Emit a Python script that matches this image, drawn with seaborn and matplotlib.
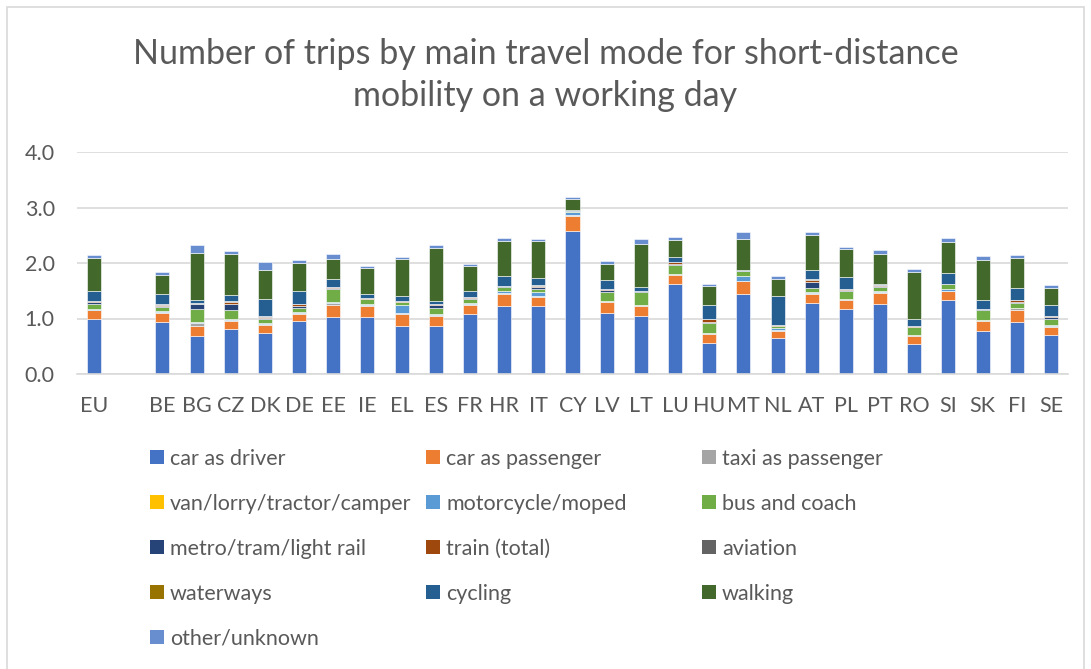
"""Stacked bars: short-distance trips by main travel mode on a working day"""
import matplotlib
matplotlib.use('Agg')
import matplotlib.pyplot as plt
from matplotlib.patches import Patch, Rectangle
import pandas as pd
import seaborn as sns

# Countries (the blank entry is the gap between EU and BE)
countries = ['EU', ' ', 'BE', 'BG', 'CZ', 'DK', 'DE', 'EE', 'IE', 'EL', 'ES', 'FR', 'HR', 'IT', 'CY',
             'LV', 'LT', 'LU', 'HU', 'MT', 'NL', 'AT', 'PL', 'PT', 'RO', 'SI', 'SK', 'FI', 'SE']

#Trips per person per mode
car_driver    = [0.99, 0, 0.94, 0.69, 0.81, 0.73, 0.96, 1.02, 1.02, 0.86, 0.87, 1.09, 1.23, 1.23, 2.58,
                 1.10, 1.05, 1.62, 0.55, 1.45, 0.64, 1.28, 1.17, 1.27, 0.54, 1.34, 0.78, 0.93, 0.70]
car_passenger = [0.16, 0, 0.16, 0.18, 0.15, 0.16, 0.13, 0.22, 0.21, 0.23, 0.18, 0.16, 0.22, 0.16, 0.27,
                 0.20, 0.17, 0.16, 0.17, 0.22, 0.14, 0.17, 0.16, 0.19, 0.14, 0.16, 0.18, 0.23, 0.15]
taxi          = [0.01, 0, 0.02, 0.05, 0.02, 0.01, 0.01, 0.04, 0.02, 0.01, 0.01, 0.02, 0.01, 0.01, 0.01,
                 0.02, 0.02, 0.02, 0.02, 0.01, 0.01, 0.01, 0.02, 0.01, 0.02, 0.00, 0.02, 0.03, 0.02]
van           = [0.00, 0, 0.00, 0.00, 0.00, 0.00, 0.00, 0.00, 0.00, 0.00, 0.00, 0.00, 0.00, 0.00, 0.00,
                 0.00, 0.00, 0.00, 0.00, 0.00, 0.00, 0.00, 0.00, 0.00, 0.00, 0.00, 0.00, 0.00, 0.00]
motorcycle    = [0.02, 0, 0.02, 0.01, 0.01, 0.02, 0.02, 0.01, 0.01, 0.14, 0.02, 0.01, 0.03, 0.08, 0.06,
                 0.00, 0.00, 0.00, 0.00, 0.08, 0.04, 0.02, 0.00, 0.02, 0.00, 0.04, 0.00, 0.00, 0.01]
bus           = [0.08, 0, 0.06, 0.24, 0.17, 0.07, 0.07, 0.24, 0.09, 0.05, 0.11, 0.07, 0.07, 0.06, 0.01,
                 0.16, 0.24, 0.17, 0.17, 0.10, 0.03, 0.07, 0.14, 0.08, 0.14, 0.08, 0.17, 0.09, 0.11]
metro         = [0.03, 0, 0.03, 0.09, 0.11, 0.02, 0.04, 0.02, 0.01, 0.01, 0.05, 0.02, 0.02, 0.02, 0.00,
                 0.04, 0.01, 0.01, 0.02, 0.00, 0.01, 0.10, 0.03, 0.01, 0.01, 0.00, 0.02, 0.02, 0.04]
train         = [0.02, 0, 0.02, 0.01, 0.03, 0.02, 0.03, 0.02, 0.01, 0.01, 0.02, 0.02, 0.01, 0.03, 0.00,
                 0.01, 0.00, 0.03, 0.06, 0.00, 0.02, 0.05, 0.02, 0.03, 0.01, 0.01, 0.01, 0.03, 0.02]
aviation      = [0.01, 0, 0.01, 0.01, 0.01, 0.01, 0.01, 0.00, 0.00, 0.01, 0.00, 0.00, 0.00, 0.01, 0.00,
                 0.00, 0.00, 0.00, 0.00, 0.00, 0.00, 0.01, 0.00, 0.00, 0.00, 0.00, 0.00, 0.00, 0.00]
waterways     = [0.00, 0, 0.00, 0.00, 0.00, 0.00, 0.00, 0.00, 0.00, 0.00, 0.00, 0.00, 0.00, 0.00, 0.00,
                 0.00, 0.00, 0.00, 0.00, 0.00, 0.00, 0.00, 0.00, 0.00, 0.00, 0.00, 0.00, 0.00, 0.00]
cycling       = [0.17, 0, 0.18, 0.05, 0.11, 0.32, 0.23, 0.14, 0.08, 0.08, 0.05, 0.11, 0.18, 0.13, 0.03,
                 0.16, 0.07, 0.09, 0.26, 0.01, 0.52, 0.17, 0.20, 0.02, 0.13, 0.19, 0.16, 0.22, 0.19]
walking       = [0.60, 0, 0.34, 0.85, 0.75, 0.52, 0.50, 0.36, 0.46, 0.67, 0.96, 0.44, 0.63, 0.66, 0.20,
                 0.30, 0.78, 0.32, 0.34, 0.56, 0.31, 0.63, 0.52, 0.54, 0.85, 0.56, 0.72, 0.54, 0.31]
other         = [0.05, 0, 0.06, 0.15, 0.05, 0.13, 0.05, 0.10, 0.03, 0.04, 0.05, 0.05, 0.05, 0.05, 0.03,
                 0.05, 0.10, 0.04, 0.04, 0.13, 0.05, 0.04, 0.03, 0.06, 0.06, 0.07, 0.07, 0.05, 0.05]

modes = ['car as driver', 'car as passenger', 'taxi as passenger', 'van/lorry/tractor/camper',
         'motorcycle/moped', 'bus and coach', 'metro/tram/light rail', 'train (total)', 'aviation',
         'waterways', 'cycling', 'walking', 'other/unknown']
series = [car_driver, car_passenger, taxi, van, motorcycle, bus, metro, train, aviation,
          waterways, cycling, walking, other]
colors = ['#4472C4', '#ED7D31', '#A5A5A5', '#FFC000', '#5B9BD5', '#70AD47', '#264478',
          '#9E480E', '#636363', '#997300', '#255E91', '#43682B', '#698ED0']

#Long table for seaborn
rows = []
for mode, values in zip(modes, series):
    for country, value in zip(countries, values):
        rows.append({'country': country, 'mode': mode, 'value': value})
df = pd.DataFrame(rows)

sns.set_style('white')
plt.rcParams['font.family'] = ['Lato', 'DejaVu Sans']
text_color = '#595959'

fig = plt.figure(figsize=(10.91, 6.69), dpi=100)
ax = fig.add_axes([77/1091, 295/669, 991/1091, 222/669])

#histplot stacks the last hue level at the bottom, so reverse the order
sns.histplot(data=df, x='country', hue='mode', weights='value', multiple='stack', discrete=True,
             shrink=0.41, hue_order=modes[::-1], palette=dict(zip(modes, colors)),
             edgecolor='white', linewidth=0.4, alpha=1, legend=False, ax=ax)

ax.set_xlim(-0.5, len(countries) - 0.5)
ax.set_ylim(0, 4)
ax.set_yticks([0, 1, 2, 3, 4])
ax.set_yticklabels([f'{v:.1f}' for v in [0, 1, 2, 3, 4]])
ax.set(xlabel='', ylabel='')
ax.yaxis.grid(True, color='#D9D9D9', linewidth=1.2)
ax.set_axisbelow(True)
for side in ['left', 'right', 'top']:
    ax.spines[side].set_visible(False)
ax.spines['bottom'].set_color('#D9D9D9')
ax.spines['bottom'].set_linewidth(1.2)
ax.tick_params(axis='x', length=0, pad=16, labelsize=15.5, labelcolor=text_color)
ax.tick_params(axis='y', length=0, pad=16, labelsize=15.5, labelcolor=text_color)

fig.text(0.5, 1 - 38/669, 'Number of trips by main travel mode for short-distance\nmobility on a working day',
         ha='center', va='top', fontsize=24.5, color=text_color, linespacing=1.37)

#Legend in Excel's row-wise order, one legend per column
handles = [Patch(facecolor=c, edgecolor='none', label=m) for m, c in zip(modes, colors)]
col_x = [141/1091, 417/1091, 693/1091]
for k in range(3):
    fig.legend(handles=handles[k::3], loc='upper left', bbox_to_anchor=(col_x[k], 1 - 440/669),
               frameon=False, fontsize=15.5, labelcolor=text_color, handlelength=0.65,
               handleheight=0.65, handletextpad=0.3, labelspacing=1.16, borderaxespad=0)

#Chart frame
fig.add_artist(Rectangle((7/1091, -0.01), 1077/1091, 1 - 7/669 + 0.01, transform=fig.transFigure,
                         fill=False, edgecolor='#D9D9D9', linewidth=1.2))

fig.savefig('out.png', dpi=100)
